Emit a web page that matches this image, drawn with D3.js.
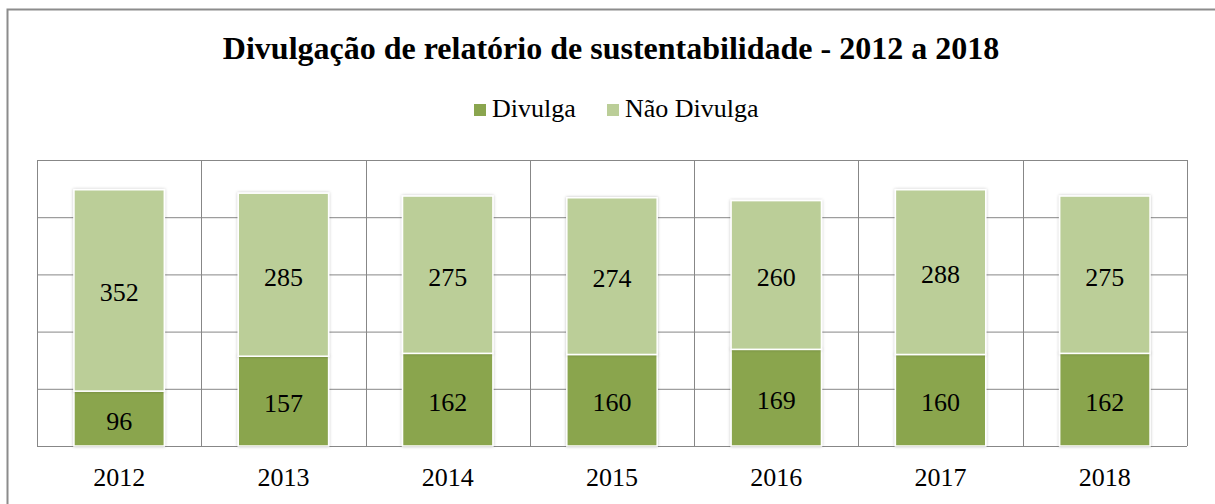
<!DOCTYPE html>
<html>
<head>
<meta charset="utf-8">
<script src="https://cdn.jsdelivr.net/npm/d3@7"></script>
<style>
  body { margin: 0; background: #fff; }
  svg text { font-family: "Liberation Serif", "Times New Roman", serif; fill: #000; }
</style>
</head>
<body>
<svg id="chart" width="1215" height="504"></svg>
<script>
// chart data
const years = ["2012", "2013", "2014", "2015", "2016", "2017", "2018"];
const divulga = [96, 157, 162, 160, 169, 160, 162];
const naoDivulga = [352, 285, 275, 274, 260, 288, 275];
const seriesNames = ["Divulga", "Não Divulga"];
const seriesColors = ["#8aa54e", "#bbce98"];
const yTicks = [0, 100, 200, 300, 400, 500];

const svg = d3.select("#chart");
const plot = { left: 37, right: 1187, top: 160, bottom: 446 };

// outer frame (only top and left edges show in the picture)
svg.append("path")
    .attr("d", "M7.5,504 L7.5,9.5 L1215,9.5")
    .attr("fill", "none")
    .attr("stroke", "#8c8c8c")
    .attr("stroke-width", 2);

// drop shadow for the bars
const defs = svg.append("defs");
const shadow = defs.append("filter").attr("id", "shadow")
    .attr("x", "-10%").attr("y", "-10%").attr("width", "120%").attr("height", "120%");
shadow.append("feDropShadow")
    .attr("dx", 0).attr("dy", 0).attr("stdDeviation", 1.5)
    .attr("flood-color", "#000").attr("flood-opacity", 0.25);

// scales
let xscale = d3.scaleBand()
    .domain(years)
    .range([plot.left, plot.right])
    .padding(0);
let yscale = d3.scaleLinear()
    .domain([0, 500])
    .range([plot.bottom, plot.top]);
const barWidth = xscale.bandwidth() * 0.55;

// horizontal gridlines
svg.append("g").selectAll("line").data(yTicks)
    .enter().append("line")
    .attr("x1", plot.left).attr("x2", plot.right)
    .attr("y1", d => yscale(d) + 0.5).attr("y2", d => yscale(d) + 0.5)
    .attr("stroke", "#878787").attr("stroke-width", 1);

// vertical category separators
const seps = years.map((d) => xscale(d)).concat([plot.right]);
svg.append("g").selectAll("line").data(seps)
    .enter().append("line")
    .attr("x1", d => Math.round(d) + 0.5).attr("x2", d => Math.round(d) + 0.5)
    .attr("y1", plot.top).attr("y2", plot.bottom)
    .attr("stroke", "#878787").attr("stroke-width", 1);

// stacked data
const rows = years.map((y, i) => ({ year: y, Divulga: divulga[i], "Não Divulga": naoDivulga[i] }));
const stacked = d3.stack().keys(seriesNames)(rows);

const layers = svg.append("g").selectAll("g").data(stacked)
    .enter().append("g")
    .attr("fill", (d, i) => seriesColors[i]);

layers.selectAll("rect").data(d => d)
    .enter().append("rect")
    .attr("x", d => xscale(d.data.year) + (xscale.bandwidth() - barWidth) / 2)
    .attr("y", d => yscale(d[1]))
    .attr("width", barWidth)
    .attr("height", d => yscale(d[0]) - yscale(d[1]))
    .attr("stroke", "#fff")
    .attr("stroke-width", 1.5)
    .attr("filter", "url(#shadow)");

// value labels
layers.selectAll("text").data(d => d)
    .enter().append("text")
    .attr("x", d => xscale(d.data.year) + xscale.bandwidth() / 2)
    .attr("y", d => (yscale(d[0]) + yscale(d[1])) / 2 + 11)
    .attr("text-anchor", "middle")
    .attr("font-size", "26px")
    .text(d => d[1] - d[0]);

// x axis labels
svg.append("g").selectAll("text").data(years)
    .enter().append("text")
    .attr("x", d => xscale(d) + xscale.bandwidth() / 2)
    .attr("y", 486)
    .attr("text-anchor", "middle")
    .attr("font-size", "26px")
    .text(d => d);

// title
svg.append("text")
    .attr("x", 611)
    .attr("y", 59)
    .attr("text-anchor", "middle")
    .attr("font-size", "32px")
    .attr("font-weight", "bold")
    .text("Divulgação de relatório de sustentabilidade - 2012 a 2018");

// legend
const legendX = [474, 607];
const legend = svg.append("g").selectAll("g").data(seriesNames)
    .enter().append("g")
    .attr("transform", (d, i) => `translate(${legendX[i]}, 104)`);
legend.append("rect")
    .attr("width", 12).attr("height", 12)
    .attr("fill", (d, i) => seriesColors[i]);
legend.append("text")
    .attr("x", 18).attr("y", 13)
    .attr("font-size", "26px")
    .text(d => d);
</script>
</body>
</html>
